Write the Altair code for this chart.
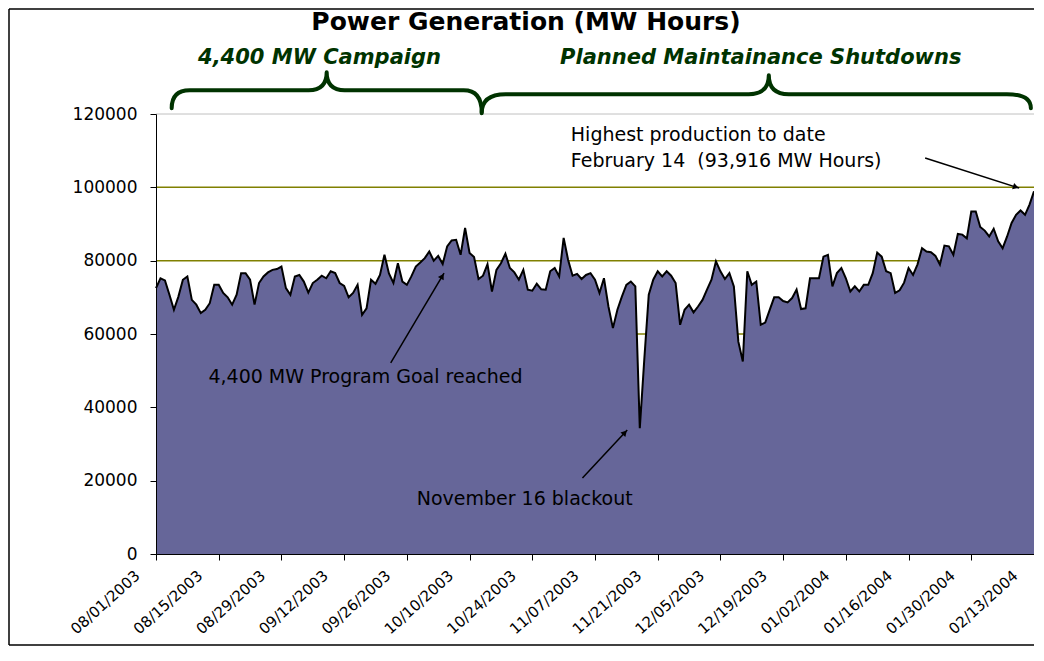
import math
import altair as alt
import pandas as pd

# ---------------- data ----------------
START = pd.Timestamp("2003-08-01")

# daily generation (MW hours), 08/01/2003 .. 02/13/2004
mwh = [
    72500, 75200, 74600, 70700, 66600, 70200, 74800, 75700, 69300, 68000,
    65700, 66600, 68400, 73400, 73400, 71200, 70000, 68000, 70700, 76600,
    76600, 74800, 68000, 73900, 75700, 76800, 77500, 77700, 78400, 72500,
    70700, 75700, 76100, 74300, 71300, 73900, 74800, 75900, 75200, 77100,
    76600, 73900, 73100, 70000, 71200, 73400, 65200, 67000, 74800, 73700,
    76100, 81600, 76500, 73900, 79300, 74300, 73400, 75700, 78400, 79500,
    80700, 82500, 80000, 81300, 79100, 83900, 85500, 85700, 81600, 88900,
    82100, 81000, 75000, 75900, 79000, 71600, 77500, 79300, 81900, 78000,
    76800, 74800, 77500, 72100, 71800, 73700, 72200, 72100, 77100, 78000,
    75700, 86200, 80200, 75900, 76400, 75000, 76100, 76600, 74800, 71200,
    75200, 67500, 61600, 66600, 70200, 73400, 74300, 73000, 34300, 53000,
    70700, 74800, 77100, 75700, 77100, 75900, 73900, 62500, 66600, 68000,
    65900, 67500, 69300, 72100, 74800, 79800, 77100, 75000, 76600, 73000,
    57900, 52500, 77100, 73400, 74300, 62500, 63100, 66600, 70000, 70000,
    69000, 68600, 69800, 72100, 66800, 67000, 75200, 75200, 75200, 81100,
    81600, 73000, 76600, 78000, 75200, 71600, 73000, 71600, 73400, 73400,
    76600, 82200, 81100, 77100, 76600, 71200, 71900, 74000, 78000, 76100,
    79000, 83400, 82500, 82300, 81300, 78900, 84100, 83900, 81600, 87300,
    87100, 86100, 93400, 93400, 89200, 88200, 86600, 88700, 85300, 83400,
    86600, 90300, 92500, 93700, 92500, 95300, 98900,
]

tick_dates = [
    "2003-08-01", "2003-08-15", "2003-08-29", "2003-09-12", "2003-09-26",
    "2003-10-10", "2003-10-24", "2003-11-07", "2003-11-21", "2003-12-05",
    "2003-12-19", "2004-01-02", "2004-01-16", "2004-01-30", "2004-02-13",
]
y_ticks = [0, 20000, 40000, 60000, 80000, 100000, 120000]
grid_values = [20000, 40000, 60000, 80000, 100000]

title_text = "Power Generation (MW Hours)"

# phases: label, start day, end day (days after 08/01/2003)
phase_labels = ["4,400 MW Campaign", "Planned Maintainance Shutdowns"]
phase_label_days = [36.5, 135.0]
phase_start = [3.5, 72.7]
phase_end = [72.7, 195.3]

# text notes: text, day, value
note_texts = [
    "Highest production to date",
    "February 14\u00a0 (93,916 MW Hours)",
    "4,400 MW Program Goal reached",
    "November 16 blackout",
]
note_days = [92.6, 92.6, 11.7, 58.2]
note_values = [114300, 107200, 48300, 15000]

# arrows: from (day, value) to (day, value)
arrow_from_day = [171.7, 52.4, 95.2]
arrow_from_val = [108000, 52100, 20700]
arrow_to_day = [192.7, 64.3, 105.2]
arrow_to_val = [99800, 76600, 33800]

# ---------------- layout / style ----------------
FONT = "DejaVu Sans"
GREEN = "#003300"
OLIVE = "#808000"
FILL = "#666699"

W_TOTAL, H_TOTAL = 1026, 638
PAD_L, PAD_T = 148, 106
W_PLOT = W_TOTAL - PAD_L
H_PLOT = 440
PAD_B = H_TOTAL - PAD_T - H_PLOT

N_DAYS = len(mwh) - 1
PX_DAY = W_PLOT / N_DAYS
PX_UNIT = H_PLOT / 120000.0


def ts(day):
    return (START + pd.Timedelta(days=day)).strftime("%Y-%m-%dT%H:%M:%S")


def dt(s):
    return alt.DateTime(year=int(s[:4]), month=int(s[5:7]), date=int(s[8:10]))


x_scale = alt.Scale(domain=[dt(tick_dates[0]), dt(ts(N_DAYS)[:10])], nice=False)
y_scale = alt.Scale(domain=[0, 120000], nice=False)

x_axis = alt.Axis(
    values=[dt(s) for s in tick_dates], format="%m/%d/%Y", labelAngle=318,
    labelAlign="right", labelBaseline="middle", labelOffset=-19, labelPadding=13,
    tickSize=6, tickColor="black", domainColor="black", labelFont=FONT,
    labelFontSize=15, labelColor="black", grid=False, title=None,
    labelOverlap=False, labelFlush=False, zindex=1,
)
y_axis = alt.Axis(
    values=y_ticks, format="d", tickSize=6, tickColor="black", domainColor="black",
    labelFont=FONT, labelFontSize=17, labelColor="black", labelPadding=13,
    grid=False, title=None, zindex=1,
)


def X(field="date"):
    return alt.X(f"{field}:T", scale=x_scale, axis=x_axis)


def Y(field="value"):
    return alt.Y(f"{field}:Q", scale=y_scale, axis=y_axis)


series = pd.DataFrame({"date": [ts(i) for i in range(len(mwh))], "value": mwh})

grid = alt.Chart(pd.DataFrame({"value": grid_values})).mark_rule(
    color=OLIVE, strokeWidth=1.5).encode(y=Y())
top_line = alt.Chart(pd.DataFrame({"value": [120000]})).mark_rule(
    color="#c0c0c0", strokeWidth=1).encode(y=Y())

area = alt.Chart(series).mark_area(color=FILL, opacity=1).encode(x=X(), y=Y())
line = alt.Chart(series).mark_line(color="black", strokeWidth=2).encode(x=X(), y=Y())

# title & phase labels
title_df = pd.DataFrame({"date": [ts(82.6)], "value": [145100], "text": [title_text]})
title = alt.Chart(title_df).mark_text(
    font=FONT, fontSize=25, fontWeight="bold", color="black", align="center",
    baseline="middle").encode(x=X(), y=Y(), text="text:N")

phase_df = pd.DataFrame({
    "date": [ts(d) for d in phase_label_days],
    "value": [135300, 135300],
    "text": phase_labels,
})
phases = alt.Chart(phase_df).mark_text(
    font=FONT, fontSize=21, fontWeight="bold", fontStyle="italic", color=GREEN,
    align="center", baseline="middle").encode(x=X(), y=Y(), text="text:N")


def brace_path(hw, el, er, p, r, m, pk):
    c = [(-hw, el), (-hw, 0), (-hw + r, 0), (pk - m, 0), (pk, 0), (pk, -p),
         (pk, 0), (pk + m, 0), (hw - r, 0), (hw, 0), (hw, er)]
    c = [(x / hw, y / hw) for x, y in c]
    f = lambda q: f"{q[0]:.4f} {q[1]:.4f}"
    return (f"M {f(c[0])} Q {f(c[1])} {f(c[2])} L {f(c[3])} Q {f(c[4])} {f(c[5])} "
            f"Q {f(c[6])} {f(c[7])} L {f(c[8])} Q {f(c[9])} {f(c[10])}")


brace_specs = [  # level value, left depth, right depth, peak, corner, mid, peak shift (days)
    (126500, 18, 22, 18, 18, 18, 0.0),
    (125400, 19, 14, 19, 24, 20, 2.8),
]
braces = []
for (s, e), (lvl, el, er, p, r, m, shift) in zip(zip(phase_start, phase_end), brace_specs):
    hw = (e - s) / 2 * PX_DAY
    path = brace_path(hw, el, er, p, r, m, shift * PX_DAY)
    bdf = pd.DataFrame({"date": [ts((s + e) / 2)], "value": [lvl]})
    braces.append(alt.Chart(bdf).mark_point(
        shape=path, size=(2 * hw) ** 2, filled=False, color=GREEN, opacity=1,
        strokeWidth=4, strokeCap="round", strokeJoin="round").encode(x=X(), y=Y()))

notes_df = pd.DataFrame({"date": [ts(d) for d in note_days], "value": note_values,
                         "text": note_texts})
notes = alt.Chart(notes_df).mark_text(
    font=FONT, fontSize=19, color="black", align="left", baseline="middle").encode(
    x=X(), y=Y(), text="text:N")

# arrows
rows, heads = [], []
for d1, v1, d2, v2 in zip(arrow_from_day, arrow_from_val, arrow_to_day, arrow_to_val):
    dx = (d2 - d1) * PX_DAY
    dy = -(v2 - v1) * PX_UNIT
    L = math.hypot(dx, dy)
    ux, uy = dx / L, dy / L
    ang = math.degrees(math.atan2(dx, -dy)) % 360
    rows.append({"date": ts(d1), "value": v1, "date2": ts(d2), "value2": v2})
    heads.append({"date": ts(d2 - 3.5 * ux / PX_DAY), "value": v2 + 3.5 * uy / PX_UNIT,
                  "angle": ang})
arrow_lines = alt.Chart(pd.DataFrame(rows)).mark_rule(color="black", strokeWidth=1.5).encode(
    x=X(), y=Y(), x2="date2:T", y2="value2:Q")
arrow_heads = alt.Chart(pd.DataFrame(heads)).mark_point(
    shape="triangle-up", filled=True, color="black", opacity=1, size=45).encode(
    x=X(), y=Y(), angle=alt.Angle("angle:Q", scale=None))

# outer frame (left, top, bottom)
one = pd.DataFrame({"k": [0]})
frame_left = alt.Chart(one).mark_rule(color="black", strokeWidth=1.5).encode(
    x=alt.value(-PAD_L + 1), y=alt.value(-PAD_T + 1), y2=alt.value(H_PLOT + PAD_B - 1))
frame_top = alt.Chart(one).mark_rule(color="black", strokeWidth=1.5).encode(
    x=alt.value(-PAD_L + 1), x2=alt.value(W_PLOT), y=alt.value(-PAD_T + 1))
frame_bottom = alt.Chart(one).mark_rule(color="black", strokeWidth=1.5).encode(
    x=alt.value(-PAD_L + 1), x2=alt.value(W_PLOT), y=alt.value(H_PLOT + PAD_B - 1))

chart = alt.layer(
    top_line, grid, area, line, title, phases, *braces, notes, arrow_lines, arrow_heads,
    frame_left, frame_top, frame_bottom,
).properties(
    width=W_PLOT, height=H_PLOT,
    autosize=alt.AutoSizeParams(type="none"),
    padding={"left": PAD_L, "top": PAD_T, "right": 0, "bottom": PAD_B},
    background="white",
).configure_view(stroke=None)

chart.save("out.html", embed_options={"renderer": "svg", "actions": False})
